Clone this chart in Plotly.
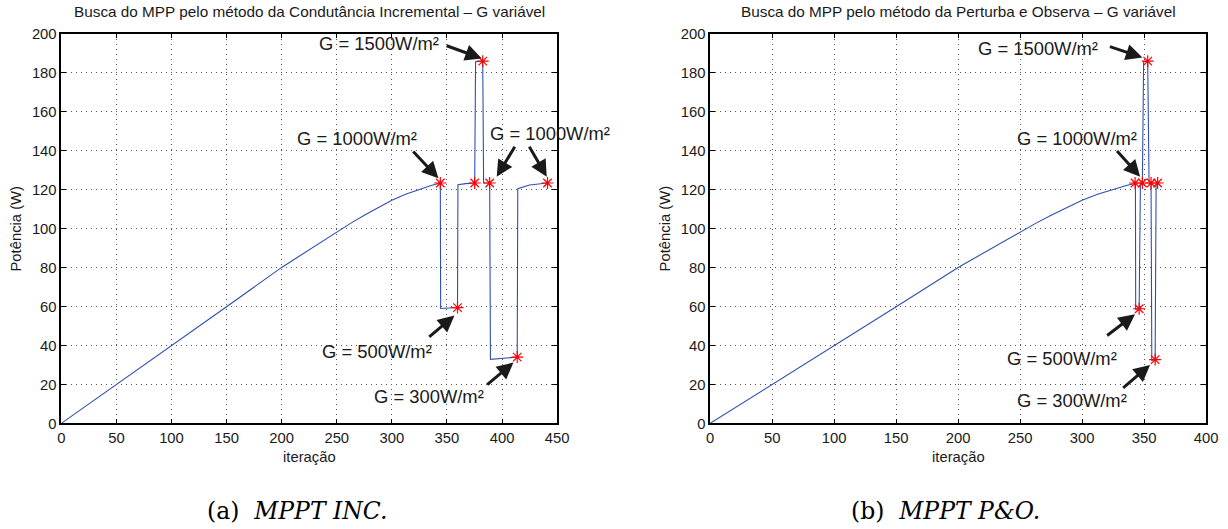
import plotly.graph_objects as go

# ---------------- data ----------------
# MPPT INC (left panel)
inc_iter = [0, 50, 100, 150, 200, 225, 250, 262.5, 275, 287.5, 300, 312.5, 325, 335, 344,
            344.3, 359.6, 360, 367, 375.2, 376, 382.5, 383.3, 388.8,
            389.5, 400, 413.8, 414.3, 425, 441.3]
inc_power = [0, 19.8, 39.8, 59.8, 80, 89.2, 98.2, 102.6, 106.8, 110.8, 114.4, 117.5, 120.1, 121.9, 123.3,
             58.9, 59.4, 122.4, 123.0, 123.3, 185.5, 185.8, 123.3, 123.3,
             32.8, 33.4, 34.0, 120.4, 122.3, 123.3]
inc_mpp_iter = [344, 359.6, 375.2, 382.5, 388.8, 413.8, 441.3]
inc_mpp_power = [123.3, 59.4, 123.3, 185.8, 123.3, 34.0, 123.3]

# MPPT P&O (right panel)
po_iter = [0, 50, 100, 150, 200, 225, 250, 262.5, 275, 287.5, 300, 312.5, 325, 335, 343,
           343.2, 346, 347, 348.6, 349.6, 352.9, 354, 355.6, 356.2, 358.9, 359.7, 361]
po_power = [0, 19.8, 39.8, 59.8, 80, 89.2, 98.2, 102.6, 106.8, 110.8, 114.4, 117.5, 120.1, 121.9, 123.2,
            58.5, 58.8, 122.9, 123.3, 185.5, 185.8, 123.2, 123.3, 32.3, 32.7, 122.9, 123.3]
po_mpp_iter = [342.7, 346.0, 348.6, 352.9, 355.6, 358.9, 360.9]
po_mpp_power = [123.3, 58.8, 123.3, 185.8, 123.3, 32.7, 123.3]

titles = ["Busca do MPP pelo método da Condutância Incremental – G variável",
          "Busca do MPP pelo método da Perturba e Observa – G variável"]
x_label = "iteração"
y_label = "Potência (W)"
captions = ["(a)\u00a0\u00a0<i>MPPT INC.</i>", "(b)\u00a0\u00a0<i>MPPT P&O.</i>"]
x_ticks_inc = [0, 50, 100, 150, 200, 250, 300, 350, 400, 450]
x_ticks_po = [0, 50, 100, 150, 200, 250, 300, 350, 400]
y_ticks = [0, 20, 40, 60, 80, 100, 120, 140, 160, 180, 200]

# ---------------- annotation layout (data coordinates) ----------------
inc_labels = [("G = 1500W/m²", 288, 194.9), ("G = 1000W/m²", 268.4, 146.2),
              ("G = 1000W/m²", 443.9, 148.7), ("G = 500W/m²", 286.5, 36.8),
              ("G = 300W/m²", 334, 13.7)]
inc_arrows = [(348.4, 194.0, 381.6, 187.2), (318.1, 140.2, 342.3, 125.7),
              (412.4, 142.7, 395.2, 126.5), (424.0, 142.7, 440.6, 126.5),
              (332.6, 43.7, 356.8, 55.3), (385.2, 19.2, 410.4, 31.2)]
po_labels = [("G = 1500W/m²", 264.4, 192.3), ("G = 1000W/m²", 295.6, 146.2),
             ("G = 500W/m²", 283.5, 33.4), ("G = 300W/m²", 291.6, 11.7)]
po_arrows = [(321.2, 193.5, 348.6, 187.7), (327.1, 140.5, 346.8, 126.5),
             (319.0, 44.5, 342.7, 56.0), (331.9, 17.5, 354.8, 30.0)]

# The page keeps the default 8px body margin and the captured page is
# scaled back to 1228x529, so layout positions are pre-compensated.
W, H = 1228, 529
OFF = 8
SX, SY = W / (W + 2 * OFF), H / (H + 2 * OFF)
FS = 2 / (SX + SY)  # font compensation
XSHIFT = 2.5
BLUE = "#2f4fb0"
FONT = "Liberation Sans, Arial, Helvetica, sans-serif"
SERIF = "DejaVu Serif, Liberation Serif, serif"


def px(xp):
    return ((xp + XSHIFT) / SX - OFF) / W


def py(yp):
    return 1 - (yp / SY - OFF) / H


x_dom = [[px(62.7), px(558.6)], [px(711.7), px(1207.7)]]
y_dom = [py(423.5), py(33.3)]

fig = go.Figure()

fig.add_trace(go.Scatter(x=inc_iter, y=inc_power, mode="lines",
                         line=dict(color=BLUE, width=1.1), xaxis="x", yaxis="y",
                         showlegend=False, hoverinfo="skip"))
fig.add_trace(go.Scatter(x=inc_mpp_iter, y=inc_mpp_power, mode="markers",
                         marker=dict(symbol="asterisk-open", size=10, color="red",
                                     line=dict(color="red", width=1.2)),
                         xaxis="x", yaxis="y", showlegend=False, cliponaxis=False))
fig.add_trace(go.Scatter(x=po_iter, y=po_power, mode="lines",
                         line=dict(color=BLUE, width=1.1), xaxis="x2", yaxis="y2",
                         showlegend=False, hoverinfo="skip"))
fig.add_trace(go.Scatter(x=po_mpp_iter, y=po_mpp_power, mode="markers",
                         marker=dict(symbol="asterisk-open", size=10, color="red",
                                     line=dict(color="red", width=1.2)),
                         xaxis="x2", yaxis="y2", showlegend=False, cliponaxis=False))


def axis_style(**kw):
    d = dict(showline=True, linecolor="black", linewidth=1.5, mirror="ticks",
             ticks="inside", ticklen=5, tickwidth=1, tickcolor="black",
             showgrid=True, gridcolor="#555555", griddash="1px,4px", gridwidth=1,
             zeroline=False, tickfont=dict(family=FONT, size=14.5 * FS, color="#1a1a1a"),
             fixedrange=True)
    d.update(kw)
    return d


fig.update_layout(
    width=W, height=H,
    margin=dict(l=0, r=0, t=0, b=0),
    paper_bgcolor="white", plot_bgcolor="white",
    showlegend=False,
    xaxis=axis_style(domain=x_dom[0], range=[0, 450], tickvals=x_ticks_inc, anchor="y"),
    yaxis=axis_style(domain=y_dom, range=[0, 200], tickvals=y_ticks, anchor="x"),
    xaxis2=axis_style(domain=x_dom[1], range=[0, 400], tickvals=x_ticks_po, anchor="y2"),
    yaxis2=axis_style(domain=y_dom, range=[0, 200], tickvals=y_ticks, anchor="x2"),
)

ann = []
# titles, axis labels, captions
for i, cx in enumerate([(62.7 + 558.6) / 2, (711.7 + 1207.7) / 2]):
    ann.append(dict(text=titles[i], x=px(cx), y=py(11), xref="paper", yref="paper",
                    showarrow=False, xanchor="center", yanchor="middle",
                    font=dict(family=FONT, size=15 * FS, color="#1a1a1a")))
    ann.append(dict(text=x_label, x=px(cx), y=py(457.3), xref="paper", yref="paper",
                    showarrow=False, xanchor="center", yanchor="middle",
                    font=dict(family=FONT, size=14.5 * FS, color="#1a1a1a")))
    ann.append(dict(text=captions[i], x=px(cx - 12.5), y=py(511.7), xref="paper",
                    yref="paper", showarrow=False, xanchor="center", yanchor="middle",
                    font=dict(family=SERIF, size=23 * FS, color="black")))
for lx in [17.5, 666.5]:
    ann.append(dict(text=y_label, x=px(lx), y=py(228.4), xref="paper", yref="paper",
                    showarrow=False, textangle=-90, xanchor="center", yanchor="middle",
                    font=dict(family=FONT, size=14.5 * FS, color="#1a1a1a")))

for labels, arrows, xr, yr in [(inc_labels, inc_arrows, "x", "y"),
                               (po_labels, po_arrows, "x2", "y2")]:
    for t, x, y in labels:
        ann.append(dict(text=t, x=x, y=y, xref=xr, yref=yr, showarrow=False,
                        xanchor="center", yanchor="middle",
                        font=dict(family=FONT, size=18 * FS, color="#1a1a1a")))
    for tx, ty, hx, hy in arrows:
        ann.append(dict(text="", x=hx, y=hy, ax=tx, ay=ty, xref=xr, yref=yr,
                        axref=xr, ayref=yr, showarrow=True, arrowhead=2,
                        arrowsize=1.1, arrowwidth=3, arrowcolor="#1a1a1a", standoff=0))

fig.update_layout(annotations=ann)
fig.write_html("out.html")
